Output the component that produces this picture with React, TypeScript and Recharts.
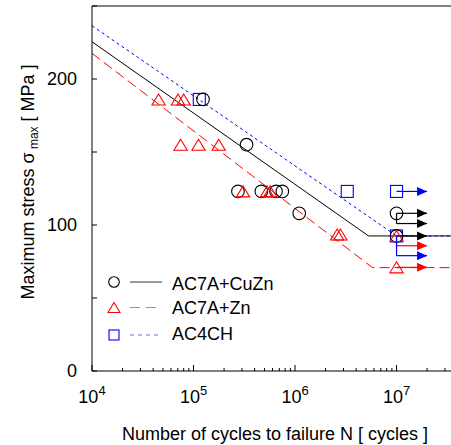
import {
  ComposedChart,
  Label,
  Legend,
  Line,
  ReferenceLine,
  Scatter,
  XAxis,
  YAxis,
} from "recharts";

const FONT = "'Liberation Sans', Arial, Helvetica, sans-serif";
const BLACK = "#000000";
const RED = "#ff0000";
const BLUE = "#0000ff";

const X_DOMAIN = [1e4, 3.44e7];
const Y_DOMAIN = [0, 250];

const X_TICKS = [
  1e4, 2e4, 3e4, 4e4, 5e4, 6e4, 7e4, 8e4, 9e4,
  1e5, 2e5, 3e5, 4e5, 5e5, 6e5, 7e5, 8e5, 9e5,
  1e6, 2e6, 3e6, 4e6, 5e6, 6e6, 7e6, 8e6, 9e6,
  1e7, 2e7, 3e7,
];
const Y_TICKS = [0, 50, 100, 150, 200, 250];
const Y_LABELS = [0, 100, 200];

// measured points (N cycles, stress MPa)
const CUZN_POINTS = [
  { n: 1.24e5, s: 186 },
  { n: 3.33e5, s: 155 },
  { n: 2.74e5, s: 123 },
  { n: 4.66e5, s: 123 },
  { n: 6.5e5, s: 123 },
  { n: 7.5e5, s: 123 },
  { n: 1.1e6, s: 108 },
  { n: 1e7, s: 108 },
  { n: 1e7, s: 92.5 },
];
const ZN_POINTS = [
  { n: 4.53e4, s: 186 },
  { n: 7.03e4, s: 186 },
  { n: 8.0e4, s: 186 },
  { n: 7.46e4, s: 155 },
  { n: 1.12e5, s: 155 },
  { n: 1.77e5, s: 155 },
  { n: 3.08e5, s: 123 },
  { n: 5.3e5, s: 123 },
  { n: 5.7e5, s: 123 },
  { n: 2.6e6, s: 93.5 },
  { n: 2.8e6, s: 93.5 },
  { n: 1e7, s: 92.5 },
  { n: 1e7, s: 71 },
];
const AC4CH_POINTS = [
  { n: 1.14e5, s: 186 },
  { n: 3.27e6, s: 123 },
  { n: 1e7, s: 123 },
  { n: 1e7, s: 92.5 },
];

// S-N curves
const CUZN_LINE = [
  { n: 1e4, s: 225.5 },
  { n: 5.3e6, s: 92.5 },
  { n: 3.44e7, s: 92.5 },
];
const ZN_LINE = [
  { n: 1e4, s: 217.6 },
  { n: 5.8e6, s: 70.8 },
  { n: 3.44e7, s: 70.8 },
];
const AC4CH_LINE = [
  { n: 1e4, s: 236.5 },
  { n: 1e7, s: 92.5 },
  { n: 3.44e7, s: 92.5 },
];

// run-outs (not failed at 1e7)
const RUNOUT_START = 1e7;
const RUNOUT_END = 2e7;
const RUNOUT_CUZN = [108, 101, 92.5];
const RUNOUT_ZN = [85.8, 71];
const RUNOUT_AC4CH = [123, 79];
const LINK_CUZN = [108, 101];
const LINK_ZN = [92.5, 85.8];
const LINK_AC4CH = [92.5, 79];

function XTick({ x, y, payload }: any) {
  const lg = Math.log10(payload.value);
  const exp = Math.round(lg);
  const major = Math.abs(lg - exp) < 1e-6;
  return (
    <g>
      <line x1={x} x2={x} y1={y} y2={y - (major ? 6 : 3)} stroke={BLACK} />
      {major && (
        <text
          x={x}
          y={y + 32}
          textAnchor="middle"
          fontSize={18}
          fontFamily={FONT}
          fill={BLACK}
        >
          10
          <tspan fontSize={13} dy={-8}>
            {exp}
          </tspan>
        </text>
      )}
    </g>
  );
}

function YTick({ x, y, payload }: any) {
  const withLabel = Y_LABELS.includes(payload.value);
  return (
    <g>
      <line x1={x} x2={x + 5} y1={y} y2={y} stroke={BLACK} />
      {withLabel && (
        <text
          x={x - 15}
          y={y}
          dy="0.35em"
          textAnchor="end"
          fontSize={18}
          fontFamily={FONT}
          fill={BLACK}
        >
          {payload.value}
        </text>
      )}
    </g>
  );
}

const circle = (r: number) => (p: any) => (
  <circle cx={p.cx} cy={p.cy} r={r} fill="none" stroke={BLACK} strokeWidth={1.1} />
);
const triangle = (w: number, h: number) => (p: any) => (
  <polygon
    points={`${p.cx},${p.cy - h / 2} ${p.cx + w / 2},${p.cy + h / 2} ${p.cx - w / 2},${p.cy + h / 2}`}
    fill="none"
    stroke={RED}
    strokeWidth={1.1}
  />
);
const square = (a: number) => (p: any) => (
  <rect
    x={p.cx - a / 2}
    y={p.cy - a / 2}
    width={a}
    height={a}
    fill="none"
    stroke={BLUE}
    strokeWidth={1.1}
  />
);
const arrowHead = (color: string) => (p: any) => (
  <polygon
    points={`${p.cx},${p.cy} ${p.cx - 10},${p.cy - 4.5} ${p.cx - 10},${p.cy + 4.5}`}
    fill={color}
    stroke="none"
  />
);

function LegendBox() {
  const rows = [
    { y: 282, text: "AC7A+CuZn", color: "#333", dash: undefined, base: 290 },
    { y: 307.5, text: "AC7A+Zn", color: RED, dash: "10 6", base: 313.5 },
    { y: 335, text: "AC4CH", color: BLUE, dash: "4 4", base: 340 },
  ];
  return (
    <svg
      width={451}
      height={445}
      style={{ position: "absolute", left: 0, top: 0, pointerEvents: "none" }}
    >
      <circle cx={114} cy={282} r={5.3} fill="none" stroke={BLACK} strokeWidth={1.1} />
      <polygon
        points="114,302.5 120,312.5 108,312.5"
        fill="none"
        stroke={RED}
        strokeWidth={1.1}
      />
      <rect x={109} y={330} width={10} height={10} fill="none" stroke={BLUE} strokeWidth={1.1} />
      {rows.map((r) => (
        <g key={r.text}>
          <line
            x1={130}
            x2={162}
            y1={r.y}
            y2={r.y}
            stroke={r.color}
            strokeOpacity={r.color === "#333" ? 1 : 0.6}
            strokeDasharray={r.dash}
          />
          <text x={172} y={r.base} fontSize={18} fontFamily={FONT} fill={BLACK}>
            {r.text}
          </text>
        </g>
      ))}
    </svg>
  );
}

function runoutSegments(levels: number[], color: string) {
  return levels.map((s) => (
    <ReferenceLine
      key={`${color}-${s}`}
      segment={[
        { x: RUNOUT_START, y: s },
        { x: RUNOUT_END, y: s },
      ]}
      stroke={color}
      strokeWidth={1.2}
      ifOverflow="visible"
    />
  ));
}

function linkSegment(levels: number[], color: string) {
  return (
    <ReferenceLine
      segment={[
        { x: RUNOUT_START, y: levels[0] },
        { x: RUNOUT_START, y: levels[1] },
      ]}
      stroke={color}
      strokeWidth={1.2}
      ifOverflow="visible"
    />
  );
}

export default function App() {
  const heads = (levels: number[]) => levels.map((s) => ({ n: RUNOUT_END, s }));

  return (
    <div
      style={{
        position: "absolute",
        left: 0,
        top: 0,
        width: 451,
        height: 445,
        overflow: "hidden",
        background: "#fff",
      }}
    >
      <ComposedChart
        width={451}
        height={445}
        margin={{ top: 6, right: 0, bottom: 0, left: 0 }}
      >
        <XAxis
          dataKey="n"
          type="number"
          scale="log"
          domain={X_DOMAIN}
          allowDataOverflow
          ticks={X_TICKS}
          interval={0}
          height={74}
          tickSize={0}
          tickMargin={0}
          tickLine={false}
          tick={XTick}
          axisLine={{ stroke: BLACK }}
        >
          <Label
            content={() => (
              <text
                x={275}
                y={440}
                textAnchor="middle"
                fontSize={18}
                fontFamily={FONT}
                fill={BLACK}
              >
                Number of cycles to failure N [ cycles ]
              </text>
            )}
          />
        </XAxis>
        <YAxis
          type="number"
          domain={Y_DOMAIN}
          allowDataOverflow
          ticks={Y_TICKS}
          interval={0}
          width={92}
          tickSize={0}
          tickMargin={0}
          tickLine={false}
          tick={YTick}
          axisLine={{ stroke: BLACK }}
        >
          <Label
            content={() => (
              <text
                transform="translate(33.5,182) rotate(-90)"
                textAnchor="middle"
                fontSize={18}
                fontFamily={FONT}
                fill={BLACK}
              >
                Maximum stress σ
                <tspan fontSize={12} dy={4}>
                  {" "}max
                </tspan>
                <tspan dy={-4}> [ MPa ]</tspan>
              </text>
            )}
          />
        </YAxis>
        <ReferenceLine y={250} stroke={BLACK} ifOverflow="visible" />

        <Line
          data={CUZN_LINE}
          dataKey="s"
          stroke={BLACK}
          strokeWidth={1}
          dot={false}
          activeDot={false}
          isAnimationActive={false}
        />
        <Line
          data={ZN_LINE}
          dataKey="s"
          stroke={RED}
          strokeWidth={1}
          strokeDasharray="10 5"
          dot={false}
          activeDot={false}
          isAnimationActive={false}
        />
        <Line
          data={AC4CH_LINE}
          dataKey="s"
          stroke={BLUE}
          strokeWidth={1}
          strokeDasharray="3 3"
          dot={false}
          activeDot={false}
          isAnimationActive={false}
        />

        {runoutSegments(RUNOUT_CUZN, BLACK)}
        {runoutSegments(RUNOUT_ZN, RED)}
        {runoutSegments(RUNOUT_AC4CH, BLUE)}
        {linkSegment(LINK_CUZN, BLACK)}
        {linkSegment(LINK_ZN, RED)}
        {linkSegment(LINK_AC4CH, BLUE)}

        <Scatter
          data={heads(RUNOUT_CUZN)}
          dataKey="s"
          shape={arrowHead(BLACK)}
          isAnimationActive={false}
        />
        <Scatter
          data={heads(RUNOUT_ZN)}
          dataKey="s"
          shape={arrowHead(RED)}
          isAnimationActive={false}
        />
        <Scatter
          data={heads(RUNOUT_AC4CH)}
          dataKey="s"
          shape={arrowHead(BLUE)}
          isAnimationActive={false}
        />

        <Scatter
          data={AC4CH_POINTS}
          dataKey="s"
          shape={square(12)}
          isAnimationActive={false}
        />
        <Scatter
          data={CUZN_POINTS}
          dataKey="s"
          shape={circle(6.3)}
          isAnimationActive={false}
        />
        <Scatter
          data={ZN_POINTS}
          dataKey="s"
          shape={triangle(13.3, 11)}
          isAnimationActive={false}
        />

        <Legend
          layout="horizontal"
          verticalAlign="middle"
          align="center"
          wrapperStyle={{ left: 0, top: 0, width: 451, height: 445 }}
          content={() => <LegendBox />}
        />
      </ComposedChart>
    </div>
  );
}
